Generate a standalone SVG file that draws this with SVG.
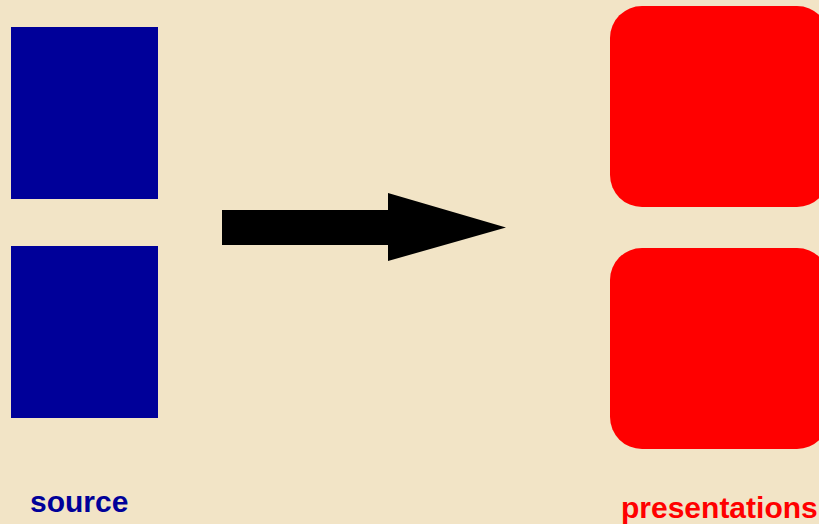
<svg xmlns="http://www.w3.org/2000/svg" width="819" height="524" viewBox="0 0 819 524">
  <style>
    .src { fill: #000099; }
    .pres { fill: #ff0000; }
    .label { font-family: "Liberation Sans", Arial, sans-serif; font-weight: bold; font-size: 30px; }
    .arrow { fill: #000000; }
  </style>
  <rect x="0" y="0" width="819" height="524" fill="#f2e4c6"/>

  <!-- source documents -->
  <g id="source-1">
    <rect class="src" x="11" y="27" width="147" height="172"/>
  </g>
  <g id="source-2">
    <rect class="src" x="11" y="246" width="147" height="172"/>
  </g>
  <g id="source-label">
    <text class="label src" x="30" y="512">source</text>
  </g>

  <!-- generated presentations -->
  <g id="presentation-1">
    <rect class="pres" x="610" y="6" width="219" height="201" rx="32" ry="32"/>
  </g>
  <g id="presentation-2">
    <rect class="pres" x="610" y="248" width="219" height="201" rx="32" ry="32"/>
  </g>
  <g id="presentations-label">
    <text class="label pres" x="621" y="518">presentations</text>
  </g>

  <!-- transformation arrow -->
  <g id="connectors">
    <polygon class="arrow" points="222,210 388,210 388,193 506,227.5 388,261 388,245 222,245"/>
  </g>
</svg>
